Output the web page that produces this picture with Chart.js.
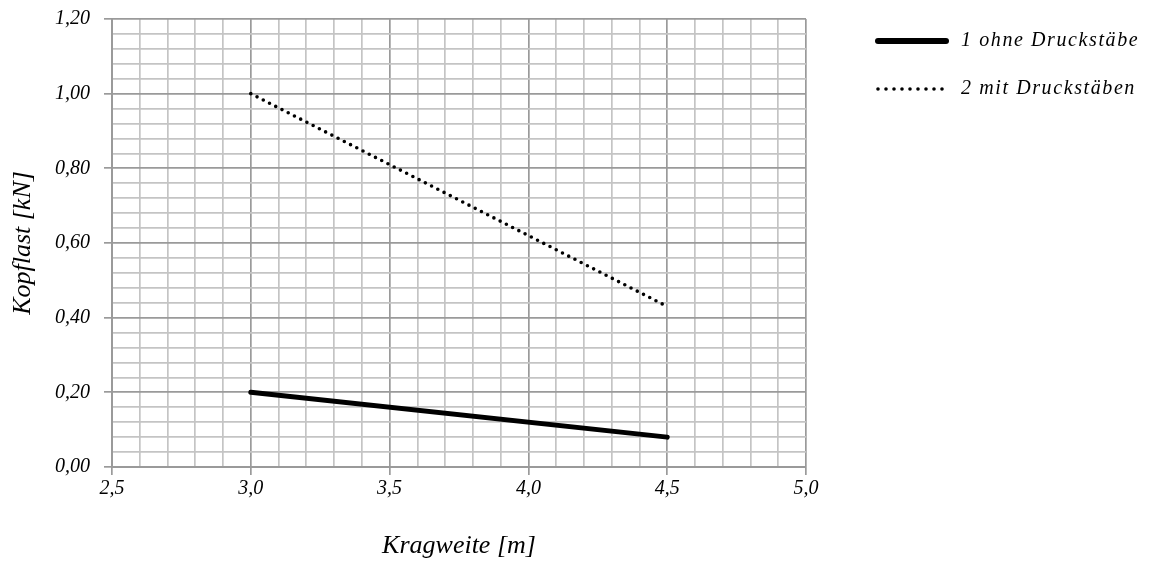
<!DOCTYPE html>
<html>
<head>
<meta charset="utf-8">
<script src="https://cdn.jsdelivr.net/npm/chart.js@4"></script>
<style>
  html, body { margin: 0; padding: 0; background: #fff; }
  #wrap { width: 1152px; height: 562px; position: relative; }
</style>
</head>
<body>
<div id="wrap"><canvas id="kopflastChart" width="1152" height="562"></canvas></div>
<script>
// --- DATA ---
const kragweite = [3.0, 4.5];
const ohneDruckstaebe = [0.20, 0.08];
const mitDruckstaebe = [1.00, 0.43];
const seriesLabels = ['1 ohne Druckstäbe', '2 mit Druckstäben'];
const xTicks = [2.5, 3.0, 3.5, 4.0, 4.5, 5.0];
const yTicks = [0.0, 0.2, 0.4, 0.6, 0.8, 1.0, 1.2];

const FONT = "'Liberation Serif', 'DejaVu Serif', serif";
const MAJOR = '#9a9a9a';
const MINOR = '#c4c4c4';

const toPoints = (xs, ys) => xs.map((x, i) => ({ x: x, y: ys[i] }));
const near = (v, list) => list.some(t => Math.abs(t - v) < 1e-6);
const komma = (v, d) => v.toFixed(d).replace('.', ',');

// legend drawn on the right side of the canvas
const sideLegend = {
    id: 'sideLegend',
    afterDraw(chart) {
        const c = chart.ctx;
        const x0 = 878, x1 = 946, tx = 961;
        const rows = [41, 89];
        c.save();
        chart.data.datasets.forEach((ds, i) => {
            const y = rows[i];
            c.beginPath();
            c.strokeStyle = ds.borderColor;
            c.lineWidth = i === 0 ? 6 : ds.borderWidth;
            c.lineCap = 'round';
            c.setLineDash(i === 0 ? [] : [0, 8]);
            c.moveTo(x0, y);
            c.lineTo(x1, y);
            c.stroke();
            c.setLineDash([]);
            c.fillStyle = '#000';
            c.font = 'italic 20px ' + FONT;
            c.letterSpacing = '1.6px';
            c.textBaseline = 'middle';
            c.textAlign = 'left';
            c.fillText(ds.label, tx, y);
        });
        c.restore();
    }
};

const ctx = document.getElementById('kopflastChart').getContext('2d');
// slightly wider text overall, closer to the TeX look
ctx.letterSpacing = '1.2px';

const kopflastChart = new Chart(ctx, {
    type: 'line',
    data: {
        datasets: [
            {
                label: seriesLabels[0],
                data: toPoints(kragweite, ohneDruckstaebe),
                borderColor: '#000',
                borderWidth: 5,
                borderCapStyle: 'round',
                pointRadius: 0,
                fill: false
            },
            {
                label: seriesLabels[1],
                data: toPoints(kragweite, mitDruckstaebe),
                borderColor: '#000',
                borderWidth: 3.6,
                borderDash: [0, 7],
                borderCapStyle: 'round',
                pointRadius: 0,
                fill: false
            }
        ]
    },
    options: {
        responsive: false,
        animation: false,
        layout: { autoPadding: false, padding: { top: 4, right: 346, left: 0, bottom: 0 } },
        plugins: { legend: { display: false }, tooltip: { enabled: false } },
        scales: {
            x: {
                type: 'linear',
                min: 2.5,
                max: 5.0,
                afterFit(scale) { scale.height = 95; },
                ticks: {
                    stepSize: 0.1,
                    autoSkip: false,
                    maxRotation: 0,
                    padding: 2,
                    color: '#000',
                    font: { family: FONT, size: 20, style: 'italic' },
                    callback: v => near(v, xTicks) ? komma(v, 1) : ''
                },
                grid: {
                    color: c => near(c.tick.value, xTicks) ? MAJOR : MINOR,
                    lineWidth: 1.7,
                    tickLength: 8,
                    tickColor: c => near(c.tick.value, xTicks) ? MAJOR : 'rgba(0,0,0,0)'
                },
                border: { color: MAJOR, width: 2 },
                title: {
                    display: true,
                    text: 'Kragweite [m]',
                    color: '#000',
                    font: { family: FONT, size: 26, style: 'italic' },
                    padding: { top: 0, bottom: 0 }
                }
            },
            y: {
                min: 0,
                max: 1.2,
                afterFit(scale) { scale.width = 112; },
                ticks: {
                    stepSize: 0.04,
                    autoSkip: false,
                    padding: 14,
                    color: '#000',
                    font: { family: FONT, size: 20, style: 'italic', lineHeight: 0.5 },
                    callback: v => near(v, yTicks) ? komma(v, 2) : ''
                },
                grid: {
                    color: c => near(c.tick.value, yTicks) ? MAJOR : MINOR,
                    lineWidth: 1.7,
                    tickLength: 8,
                    tickColor: c => near(c.tick.value, yTicks) ? MAJOR : 'rgba(0,0,0,0)'
                },
                border: { color: MAJOR, width: 2 },
                title: {
                    display: true,
                    text: 'Kopflast [kN]',
                    color: '#000',
                    font: { family: FONT, size: 26, style: 'italic' },
                    padding: { top: 8, bottom: 0 }
                }
            }
        }
    },
    plugins: [sideLegend]
});
</script>
</body>
</html>
